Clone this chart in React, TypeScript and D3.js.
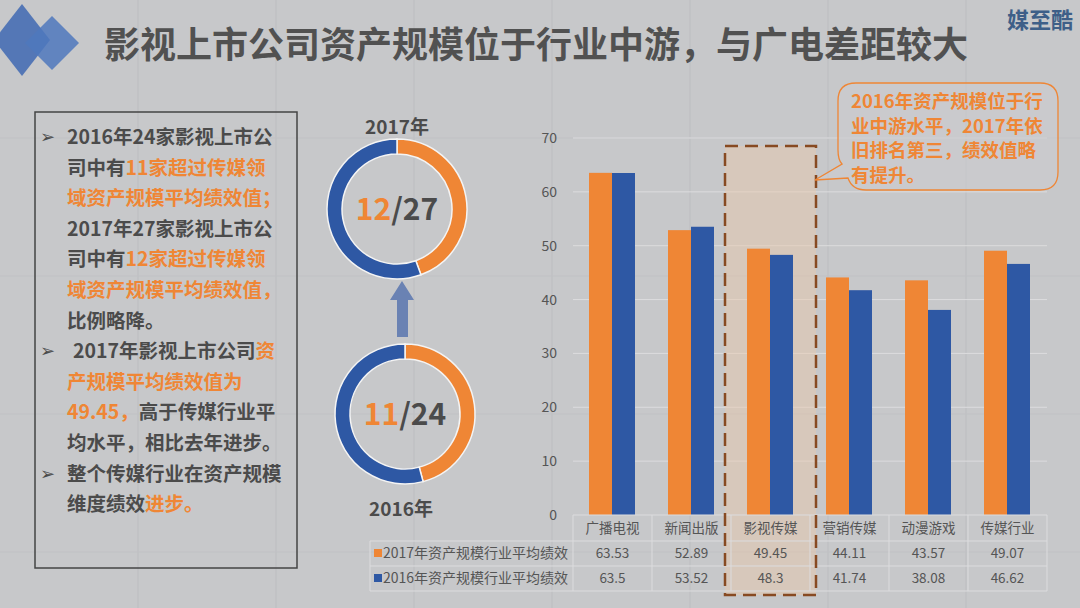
import React from 'react';
import * as d3 from 'd3';

const categories = ['广播电视', '新闻出版', '影视传媒', '营销传媒', '动漫游戏', '传媒行业'];
const seriesNames = ['2017年资产规模行业平均绩效', '2016年资产规模行业平均绩效'];
const values2017 = [63.53, 52.89, 49.45, 44.11, 43.57, 49.07];
const values2016 = [63.5, 53.52, 48.3, 41.74, 38.08, 46.62];
const valueLabels2017 = ['63.53', '52.89', '49.45', '44.11', '43.57', '49.07'];
const valueLabels2016 = ['63.5', '53.52', '48.3', '41.74', '38.08', '46.62'];
const yTicks = [0, 10, 20, 30, 40, 50, 60, 70];
const donutYears = ['2017年', '2016年'];
const donutParts = [[12, 27], [11, 24]];
const highlightCategory = '影视传媒';
const calloutLines = ['2016年资产规模位于行', '业中游水平，2017年依', '旧排名第三，绩效值略', '有提升。'];

type Seg = { t: string; o?: boolean };
const leftLines: { seg: Seg[]; bullet?: boolean; indent?: number }[] = [
  { bullet: true, seg: [{ t: '2016年24家影视上市公' }] },
  { seg: [{ t: '司中有' }, { t: '11家超过传媒领', o: true }] },
  { seg: [{ t: '域资产规模平均绩效值；', o: true }] },
  { seg: [{ t: '2017年27家影视上市公' }] },
  { seg: [{ t: '司中有' }, { t: '12家超过传媒领', o: true }] },
  { seg: [{ t: '域资产规模平均绩效值，', o: true }] },
  { seg: [{ t: '比例略降。' }] },
  { bullet: true, indent: 6, seg: [{ t: '2017年影视上市公司' }, { t: '资', o: true }] },
  { seg: [{ t: '产规模平均绩效值为', o: true }] },
  { seg: [{ t: '49.45，', o: true }, { t: '高于传媒行业平' }] },
  { seg: [{ t: '均水平，相比去年进步。' }] },
  { bullet: true, seg: [{ t: '整个传媒行业在资产规模' }] },
  { seg: [{ t: '维度绩效' }, { t: '进步。', o: true }] },
];

const ORANGE = '#ef8635';
const BLUE = '#2e58a4';
const BG = '#c7c8ca';
const TXT = '#4b4b4b';
const FONT = '"Noto Sans CJK SC", "Noto Sans", sans-serif';

export default function App() {
  const W = 1080, H = 608;
  const left = 573, right = 1047, top = 138, bottom = 515;
  const x = d3.scaleBand<string>().domain(categories).range([left, right]);
  const xs = d3.scaleBand<string>().domain(seriesNames).range([16, 62]);
  const y = d3.scaleLinear().domain([0, 70]).range([bottom, top]);
  const rowY = [bottom, 541, 566, 591];
  const tableLeft = 370;
  const series = [values2017, values2016];
  const labels = [valueLabels2017, valueLabels2016];
  const colors = [ORANGE, BLUE];

  const arc = d3.arc<any>().innerRadius(55).outerRadius(70);
  const donutCenters = [[397, 209], [405, 414]];

  const hx = x(highlightCategory)!;
  const gridBg = d3.range(138, W, 138);

  return (
    <svg width={W} height={H} style={{ position: 'absolute', left: 0, top: 0, display: 'block' }} fontFamily={FONT}>
      <rect width={W} height={H} fill={BG} />
      {gridBg.map(g => <line key={'v' + g} x1={g} x2={g} y1={0} y2={H} stroke="#bcbdc0" strokeWidth={1} />)}
      {gridBg.filter(g => g < H).map(g => <line key={'h' + g} x1={0} x2={W} y1={g} y2={g} stroke="#c0c1c4" strokeWidth={1} />)}

      {/* logo */}
      <path d="M22,4 L50,40 L22,76 L-6,40 Z" fill="#4a70b4" opacity={0.92} />
      <path d="M52,16 L79,43 L52,70 L25,43 Z" fill="#4f78bd" opacity={0.85} />
      <text x={104} y={58} fontSize={36} fontWeight={700} fill="#515151">影视上市公司资产规模位于行业中游，与广电差距较大</text>
      <text x={1073} y={28} fontSize={22} fontWeight={700} fill="#3e5f88" textAnchor="end">媒至酷</text>

      {/* left text box */}
      <rect x={35} y={112} width={262} height={456} fill="none" stroke="#444" strokeWidth={1.5} />
      {leftLines.map((ln, i) => (
        <g key={i}>
          {ln.bullet && <text x={40} y={143 + i * 30.6} fontSize={18} fill={TXT}>➢</text>}
          <text x={67 + (ln.indent || 0)} y={144 + i * 30.6} fontSize={19.5} fontWeight={700} fill={TXT}>
            {ln.seg.map((s, j) => <tspan key={j} fill={s.o ? ORANGE : TXT}>{s.t}</tspan>)}
          </text>
        </g>
      ))}

      {/* donuts */}
      {donutParts.map((p, i) => {
        const [cx, cy] = donutCenters[i];
        const pie = d3.pie<number>().sort(null)([p[0], p[1] - p[0]]);
        return (
          <g key={i} transform={`translate(${cx},${cy})`}>
            {pie.map((a, j) => <path key={j} d={arc(a)!} fill={j === 0 ? ORANGE : BLUE} stroke="#f4f4f4" strokeWidth={1.5} />)}
            <text y={11} textAnchor="middle" fontSize={30} fontWeight={700} fill={TXT}>
              <tspan fill={ORANGE}>{p[0]}</tspan>/{p[1]}
            </text>
          </g>
        );
      })}
      <text x={397} y={134} textAnchor="middle" fontSize={19} fontWeight={700} fill={TXT}>{donutYears[0]}</text>
      <text x={401} y={516} textAnchor="middle" fontSize={19} fontWeight={700} fill={TXT}>{donutYears[1]}</text>
      <path d="M397,337 L397,300 L390,300 L402,281 L414,300 L408,300 L408,337 Z" fill="#6a82b3" />

      {/* chart grid */}
      {yTicks.map(t => (
        <g key={t}>
          {t > 0 && <line x1={left} x2={right} y1={y(t)} y2={y(t)} stroke="#dcdcde" strokeWidth={1} />}
          <text x={557} y={y(t) + 5} textAnchor="end" fontSize={14} fill="#555">{t}</text>
        </g>
      ))}

      {/* highlight box fill */}
      <rect x={hx - 6} y={146} width={x.bandwidth() + 12} height={449} fill="#ecc8a8" opacity={0.45} />

      {/* bars */}
      {categories.map((c, i) => (
        <g key={c}>
          {series.map((s, k) => (
            <rect key={k} x={x(c)! + xs(seriesNames[k])!} y={y(s[i])} width={xs.bandwidth()} height={y(0) - y(s[i])} fill={colors[k]} />
          ))}
        </g>
      ))}

      {/* data table */}
      {rowY.map((ry, i) => (
        <line key={'r' + i} x1={i === 0 ? left : tableLeft} x2={right} y1={ry} y2={ry} stroke="#dcdcde" strokeWidth={1} />
      ))}
      <line x1={tableLeft} x2={tableLeft} y1={rowY[1]} y2={rowY[3]} stroke="#dcdcde" />
      {categories.map((c, i) => (
        <line key={'c' + i} x1={x(c)!} x2={x(c)!} y1={rowY[0]} y2={rowY[3]} stroke="#dcdcde" />
      ))}
      <line x1={right} x2={right} y1={rowY[0]} y2={rowY[3]} stroke="#dcdcde" />
      {categories.map(c => (
        <text key={c} x={x(c)! + x.bandwidth() / 2} y={533} textAnchor="middle" fontSize={13.5} fill="#555">{c}</text>
      ))}
      {seriesNames.map((n, k) => (
        <g key={n}>
          <rect x={374} y={rowY[k + 1] + 8} width={8} height={8} fill={colors[k]} />
          <text x={383} y={rowY[k + 1] + 17} fontSize={14} fill="#555">{n}</text>
          {labels[k].map((v, i) => (
            <text key={i} x={x(categories[i])! + x.bandwidth() / 2} y={rowY[k + 1] + 17} textAnchor="middle" fontSize={13.5} fill="#555">{v}</text>
          ))}
        </g>
      ))}

      {/* highlight dashed border */}
      <rect x={hx - 6} y={146} width={x.bandwidth() + 12} height={449} fill="none" stroke="#874a22" strokeWidth={2.5} strokeDasharray="13 7" />

      {/* callout */}
      <path d="M856,83 H1040 Q1058,83 1058,101 V172 Q1058,190 1040,190 H866 Q852,190 848,178 L815,180 L842,164 Q838,160 838,150 V101 Q838,83 856,83 Z"
        fill="#cbcccf" fillOpacity={0.6} stroke={ORANGE} strokeWidth={1.3} />
      {calloutLines.map((l, i) => (
        <text key={i} x={851} y={108 + i * 24.5} fontSize={18.5} fontWeight={700} fill={ORANGE}>{l}</text>
      ))}
    </svg>
  );
}
